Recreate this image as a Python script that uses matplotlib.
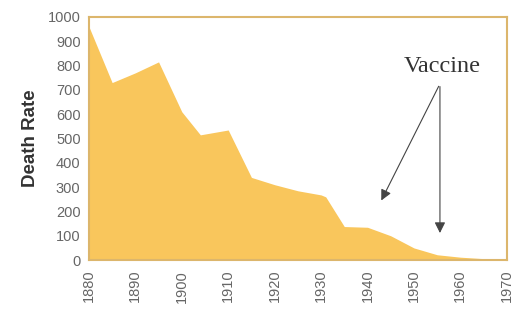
import matplotlib.pyplot as plt

# death rate readings taken off the curve
years = [1880, 1885, 1890, 1895, 1900, 1904, 1907, 1910, 1915, 1920, 1925, 1930, 1931,
         1935, 1940, 1945, 1950, 1955, 1960, 1965, 1970]
rates = [960, 730, 770, 815, 610, 515, 525, 535, 340, 310, 285, 268, 260,
         138, 135, 100, 50, 22, 12, 6, 4]

xticks = list(range(1880, 1971, 10))
yticks = list(range(0, 1001, 100))

fig = plt.figure(figsize=(5.14, 3.13), dpi=100)
ax = fig.add_axes([0.173, 0.169, 0.813, 0.777])

ax.fill_between(years, rates, 0, color='#f9c65c', linewidth=0)

ax.set_xlim(1880, 1970)
ax.set_ylim(0, 1000)
ax.set_xticks(xticks)
ax.set_yticks(yticks)
ax.set_xticklabels([str(x) for x in xticks], rotation=90, fontsize=10.5,
                   color='#666666', family='Liberation Sans')
ax.set_yticklabels([str(y) for y in yticks], fontsize=10.5,
                   color='#666666', family='Liberation Sans')
ax.tick_params(axis='y', length=0, pad=6)
ax.tick_params(axis='x', length=0, pad=7)

for s in ax.spines.values():
    s.set_color('#dcb66c')
    s.set_linewidth(1.5)

ax.set_ylabel('Death Rate', fontsize=13.5, fontweight='bold', color='#333333',
              family='Liberation Sans', labelpad=6)

ax.text(1956.2, 795, 'Vaccine', fontsize=17.5, family='Liberation Serif',
        color='#333333', ha='center', va='center')
arrow = dict(arrowstyle='-|>', color='#444444', lw=0.8, mutation_scale=16)
ax.annotate('', xy=(1942.7, 235), xytext=(1955.6, 725), arrowprops=arrow)
ax.annotate('', xy=(1955.6, 100), xytext=(1955.6, 725), arrowprops=arrow)

plt.savefig('out.png', dpi=100)
